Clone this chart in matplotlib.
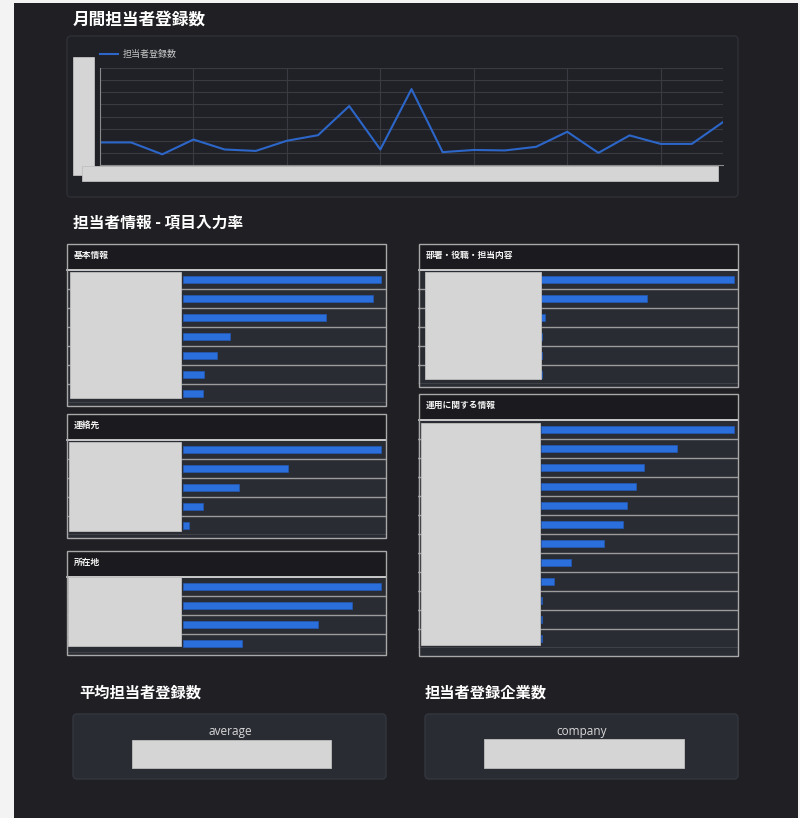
import numpy as np
import matplotlib
matplotlib.use("Agg")
import matplotlib.pyplot as plt
from matplotlib.patches import Rectangle, FancyBboxPatch
from matplotlib.transforms import IdentityTransform

plt.rcParams['font.family'] = ['Noto Sans CJK JP', 'DejaVu Sans']

# monthly registrations (axis labels are redacted in the source, scale estimated)
monthly = [9.3, 9.3, 4.4, 10.5, 6.4, 5.8, 10.0, 12.3, 24.3, 6.4, 31.3,
           5.3, 6.2, 6.0, 7.5, 13.7, 5.0, 12.2, 8.7, 8.7, 17.7]

# input rates per item (%)
basic_rates = [100, 95.8, 72.0, 23.7, 17.2, 10.5, 10.0]
contact_rates = [100, 53.0, 28.3, 10.1, 2.9]
address_rates = [100, 85.3, 68.2, 29.6]
dept_rates = [100, 55.0, 2.0, 0.6, 0.6, 0.6]
ops_rates = [100, 70.5, 53.5, 49.0, 44.6, 42.5, 32.4, 15.4, 6.6, 0.6, 0.6, 0.6]

W, H = 800, 818
BG = "#1f1f24"
HEADER = "#1b1b1f"
ROW = "#2a2c33"
SEP = "#9c9c9c"
BAR = "#2b6fdc"
LINE = "#2c66c8"
MASK = "#d5d5d5"

fig = plt.figure(figsize=(W / 100, H / 100), dpi=100)
fig.patch.set_facecolor(BG)
ident = IdentityTransform()


def box(x0, y0, x1, y1, **kw):
    fig.add_artist(Rectangle((x0, H - y1), x1 - x0, y1 - y0, transform=ident, **kw))


def rbox(x0, y0, x1, y1, r=4, **kw):
    fig.add_artist(FancyBboxPatch((x0, H - y1), x1 - x0, y1 - y0,
                                  boxstyle="round,pad=0,rounding_size=%s" % r,
                                  transform=ident, **kw))


def text(x, y, s, **kw):
    fig.text(x / W, 1 - y / H, s, **kw)


def add_ax(x0, y0, x1, y1):
    return fig.add_axes([x0 / W, 1 - y1 / H, (x1 - x0) / W, (y1 - y0) / H])


def mask(x0, y0, x1, y1):
    box(x0, y0, x1, y1, facecolor=MASK, edgecolor="#bfbfbf", lw=0.6, zorder=10)


# page edges
box(0, 0, 14, H, facecolor="#f3f3f3", edgecolor="none", zorder=-2)
box(0, 0, W, 3, facecolor="#f3f3f3", edgecolor="none", zorder=-2)
box(798, 0, W, H, facecolor="#f3f3f3", edgecolor="none", zorder=-2)

# ---- monthly line chart ----
text(73, 20, "月間担当者登録数", color="white", fontsize=12, fontweight="bold", va="center")
rbox(67, 36, 738, 197, r=4, facecolor="#202126", edgecolor="#2f3037", lw=1, zorder=-1)

ax = add_ax(100, 68, 723, 165)
ax.set_facecolor("none")
ax.plot(range(len(monthly)), monthly, color=LINE, lw=1.5, label="担当者登録数")
ax.set_xlim(0, len(monthly) - 1)
ax.set_ylim(0, 40)
ax.set_xticks(range(0, 21, 3))
ax.set_yticks(range(0, 41, 5))
ax.set_xticklabels([])
ax.set_yticklabels([])
ax.tick_params(length=0)
ax.grid(color="#3a3b42", lw=0.8)
for s in ("top", "right"):
    ax.spines[s].set_visible(False)
for s in ("left", "bottom"):
    ax.spines[s].set_color("#8a8a8a")
    ax.spines[s].set_linewidth(0.8)
ax.legend(loc="center left", bbox_to_anchor=(92 / W, 1 - 55 / H), bbox_transform=fig.transFigure,
          frameon=False, fontsize=6.5, handlelength=2.0, handletextpad=0.5, labelcolor="#c8c8c8")
mask(73, 57, 94, 175)
mask(82, 166, 718, 181)

# ---- item input rate panels ----
text(73, 223, "担当者情報 - 項目入力率", color="white", fontsize=11.3, fontweight="bold", va="center")


def bar_panel(title, values, left, right, top, bottom, bar_zero, bar_full):
    hb = top + 26
    n = len(values)
    rows_bottom = hb + 19 * n
    box(left, top, right, bottom, facecolor=ROW, edgecolor="none", zorder=-1)
    box(left, top, right, hb, facecolor=HEADER, edgecolor="none", zorder=-1)
    text(left + 7, top + 11, title, color="#f2f2f2", fontsize=6.3, fontweight="bold", va="center")

    a = add_ax(left, hb, right, rows_bottom)
    scale = (bar_full - bar_zero) / 100.0
    a.set_xlim(-(bar_zero - left) / scale, (right - bar_zero) / scale)
    a.set_ylim(n, 0)
    a.set_facecolor(ROW)
    for i in range(1, n + 1):
        a.axhline(i, color=SEP, lw=1)
    a.barh(np.arange(n) + 0.5, values, height=0.38, color=BAR, edgecolor="#2259b5", lw=0.5)
    a.set_xticks([])
    a.set_yticks([])
    for s in a.spines.values():
        s.set_visible(False)

    # header separator and outer frame
    fig.add_artist(plt.Line2D([left, right], [H - hb, H - hb], transform=ident,
                              color="#e6e6e6", lw=1.2, zorder=4))
    box(left, top, right, bottom, facecolor="none", edgecolor="#a8a8a8", lw=1, zorder=4)


bar_panel("基本情報", basic_rates, 66.5, 385.5, 244, 406, 183, 381)
bar_panel("連絡先", contact_rates, 66.5, 385.5, 414, 538, 183, 381)
bar_panel("所在地", address_rates, 66.5, 385.5, 551, 655, 183, 381)
bar_panel("部署・役職・担当内容", dept_rates, 418.5, 738, 244, 387, 541, 734)
bar_panel("運用に関する情報", ops_rates, 418.5, 738, 394, 656, 541, 734)

mask(70, 272, 181, 398)
mask(69, 442, 181, 531)
mask(68, 577, 181, 646)
mask(425, 272, 541, 379)
mask(421, 423, 540, 645)

# ---- summary cards ----
text(79, 693, "平均担当者登録数", color="white", fontsize=11, fontweight="bold", va="center")
text(425, 693, "担当者登録企業数", color="white", fontsize=11, fontweight="bold", va="center")
rbox(73, 714, 386, 779, r=4, facecolor="#2a2c34", edgecolor="#33363e", lw=1, zorder=-1)
rbox(425, 714, 738, 779, r=4, facecolor="#2a2c34", edgecolor="#33363e", lw=1, zorder=-1)
text(230, 732, "average", color="#d8d8d8", fontsize=8.5, ha="center", va="center",
     family=["Open Sans", "DejaVu Sans"])
text(582, 732, "company", color="#d8d8d8", fontsize=8.5, ha="center", va="center",
     family=["Open Sans", "DejaVu Sans"])
mask(132, 740, 331, 768)
mask(484, 739, 684, 768)

fig.savefig("out.png", dpi=100, facecolor=fig.get_facecolor())
